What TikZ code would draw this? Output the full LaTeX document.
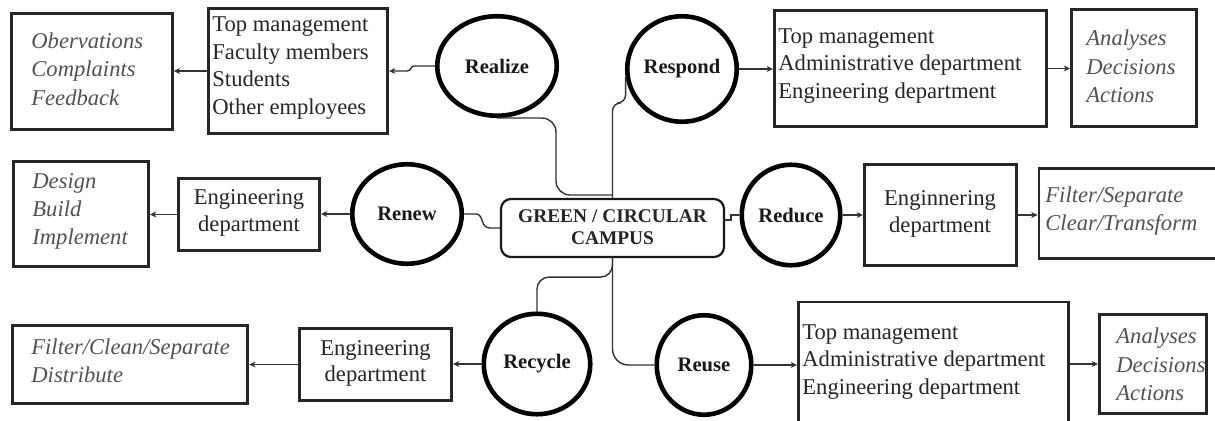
\documentclass[tikz,border=0pt]{standalone}
\usepackage{fontspec}
\setmainfont{Liberation Serif}
\usetikzlibrary{shapes.geometric,arrows.meta}
\begin{document}
\begin{tikzpicture}[x=0.5pt,y=-0.5pt,
 box/.style={draw=black!85,line width=1.4pt,inner sep=0pt},
 circ/.style={ellipse,draw=black,line width=2.3pt,inner sep=0pt,font=\bfseries\fontsize{10.3}{12}\selectfont,text=black!90},
 conn/.style={line width=0.7pt,draw=black!80},
 arr/.style={conn,-{Stealth[length=3.2pt,width=3pt]}},
 txt/.style={align=left,inner sep=0pt,font=\fontsize{11.3}{13.8}\selectfont,text=black!85},
 itxt/.style={align=left,inner sep=0pt,font=\itshape\fontsize{11.3}{14.2}\selectfont,text=black!68},
 ctxt/.style={align=center,inner sep=0pt,font=\fontsize{11.3}{13.4}\selectfont,text=black!85}]
\useasboundingbox (0,0) rectangle (1215,421);
\clip (0,0) rectangle (1215,421);

% ---- boxes ----
\node[box,minimum width=80.3pt,minimum height=58.1pt] (obs) at (92,71.5) {};
\node[box,minimum width=89.6pt,minimum height=62.6pt] (tm1) at (298,71) {};
\node[box,minimum width=67.6pt,minimum height=52.6pt] (design) at (81,214) {};
\node[box,minimum width=70.6pt,minimum height=36.1pt] (renEng) at (249,214.5) {};
\node[box,minimum width=117.8pt,minimum height=39.1pt] (recFilt) at (130,364.5) {};
\node[box,minimum width=76.1pt,minimum height=36.1pt] (recEng) at (375.5,364.5) {};
\node[draw=black!90,line width=1.1pt,rounded corners=5pt,inner sep=0pt,minimum width=111.5pt,minimum height=29pt] (center) at (612.5,228) {};
\node[box,minimum width=136.1pt,minimum height=58.1pt] (resBox) at (910.5,68.5) {};
\node[box,minimum width=62.6pt,minimum height=58.6pt] (resAna) at (1134,68) {};
\node[box,minimum width=76.1pt,minimum height=50.6pt] (redEng) at (940.5,215) {};
\node[box,minimum width=95pt,minimum height=45.1pt] (redFilt) at (1134,213.5) {};
\node[box,minimum width=135.1pt,minimum height=69pt] (reuBox) at (933.5,371) {};
\node[box,minimum width=53.6pt,minimum height=49.6pt] (reuAna) at (1153,364) {};

% ---- circles ----
\node[circ,minimum width=59.75pt,minimum height=49.75pt] (realize) at (497,66) {Realize};
\node[circ,minimum width=54.75pt,minimum height=52.75pt] (respond) at (682,69) {Respond};
\node[circ,minimum width=54.75pt,minimum height=49.75pt] (renew) at (407,214) {Renew};
\node[circ,minimum width=49.25pt,minimum height=50.25pt] (reduce) at (791,215) {Reduce};
\node[circ,minimum width=53.25pt,minimum height=50.25pt] (recycle) at (537,364) {Recycle};
\node[circ,minimum width=47.25pt,minimum height=49.75pt] (reuse) at (704,365) {Reuse};

% ---- texts ----
\node[itxt,anchor=west] (tObs) at (31,69) {Obervations\\Complaints\\Feedback};
\node[txt,anchor=west] (tTm1) at (212,68) {Top management\\Faculty members\\Students\\Other employees};
\node[itxt,anchor=west] (tDesign) at (32,211.5) {Design\\Build\\Implement};
\node[ctxt] (tRenEng) at (249,213) {Engineering\\department};
\node[itxt,anchor=west] (tRecFilt) at (31,360.5) {Filter/Clean/Separate\\Distribute};
\node[ctxt] (tRecEng) at (375.5,363.5) {Engineering\\department};
\node[align=center,inner sep=0pt,font=\bfseries\fontsize{9.7}{11}\selectfont,text=black!85] (tCenter) at (612.5,227) {GREEN / CIRCULAR\\CAMPUS};
\node[txt,anchor=west] (tResBox) at (778,66) {Top management\\Administrative department\\Engineering department};
\node[itxt,anchor=west] (tResAna) at (1086,66.5) {Analyses\\Decisions\\Actions};
\node[ctxt] (tRedEng) at (940,214) {Enginnering\\department};
\node[itxt,anchor=west] (tRedFilt) at (1045,211) {Filter/Separate\\Clear/Transform};
\node[txt,anchor=west] (tReuBox) at (802,362) {Top management\\Administrative department\\Engineering department};
\node[itxt,anchor=west] (tReuAna) at (1116,364.5) {Analyses\\Decisions\\Actions};

% ---- connectors ----
\coordinate (cTop) at (612.5,195);
% Realize
\draw[arr] (realize.west) -- (414,66) .. controls (410,66) and (412,71) .. (407,71) -- (tm1.east);
\draw[arr] (tm1.west) -- (obs.east |- tm1.west);
\draw[conn,rounded corners=7pt] (realize.south) -| (556,195) -- (cTop);
% Respond
\draw[conn,rounded corners=4pt] (respond.188) |- (612.5,103) -- (center.north);
\draw[arr] (respond.east) -- (resBox.west |- respond.east);
\draw[arr] (resBox.east) -- (resAna.west |- resBox.east);
% Renew
\draw[conn] (renew.east) -- (476,214) .. controls (484,214) and (480,228) .. (490,228) -- (center.west);
\draw[arr] (renew.west) -- (renEng.east |- renew.west);
\draw[arr] (renEng.west) -- (design.east |- renEng.west);
% Reduce
\draw[conn] (center.4) -- ++(6,0) |- (reduce.west);
\draw[arr] (reduce.east) -- (redEng.west |- reduce.east);
\draw[arr] (redEng.east) -- (redFilt.west |- redEng.east);
% Reuse and Recycle
\draw[conn,rounded corners=8pt] (center.south) |- (reuse.west);
\draw[conn,rounded corners=6pt] (center.south) -- ++(0,19) -| (recycle.north);
\draw[arr] (recycle.west) -- (recEng.east |- recycle.west);
\draw[arr] (recEng.west) -- (recFilt.east |- recEng.west);
\draw[arr] (reuse.east) -- (reuBox.west |- reuse.east);
\draw[arr] (reuBox.east |- reuAna.west) -- (reuAna.west);
\end{tikzpicture}
\end{document}
